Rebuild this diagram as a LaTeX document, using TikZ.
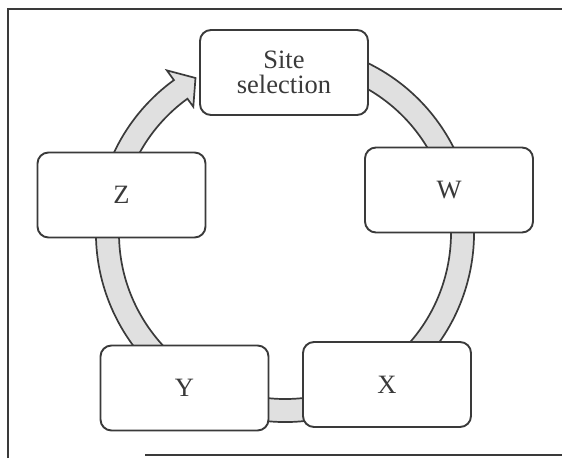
\documentclass[tikz,border=0pt]{standalone}
\usepackage{fontspec}
\setmainfont{Liberation Serif}
\usetikzlibrary{calc,backgrounds}
\definecolor{ink}{HTML}{3A3A3A}
\definecolor{bandgray}{HTML}{E0E0E0}
\begin{document}
\begin{tikzpicture}[x=1pt,y=1pt,
  stagebox/.style={draw=ink, line width=1.9pt, fill=white, rounded corners=11pt,
    minimum width=168pt, minimum height=85pt, inner sep=0pt, align=center,
    text=ink, font=\fontsize{26.5}{25.5}\selectfont},
  ringband/.style={draw=ink, line width=1.7pt, fill=bandgray, line join=miter},
  frameline/.style={draw=ink, line width=1.7pt}]
\useasboundingbox (0,0) rectangle (562,458);
% frame
\draw[frameline] (8,0) -- (8,449) -- (562,449);
\draw[frameline] (145,3) -- (562,3);
% stages
\node[stagebox] (site) at (284,385.5) {Site\\selection};
\node[stagebox] (w) at (449,268) {W};
\node[stagebox] (x) at (387,73.5) {X};
\node[stagebox] (y) at (184.5,70) {Y};
\node[stagebox] (z) at (121.5,263) {Z};
\coordinate (c) at (285,225);
% cycle band with arrowhead into site selection
\begin{scope}[on background layer]
\draw[ringband] ($(c)+(75:189pt)$) arc[start angle=75, end angle=-234, radius=189pt]
  -- ($(c)+(126:201pt)$) -- ($(c)+(120:179pt)$) -- ($(c)+(126:156pt)$)
  -- ($(c)+(126:166pt)$) arc[start angle=126, end angle=435, radius=166pt] -- cycle;
\end{scope}
\end{tikzpicture}
\end{document}
